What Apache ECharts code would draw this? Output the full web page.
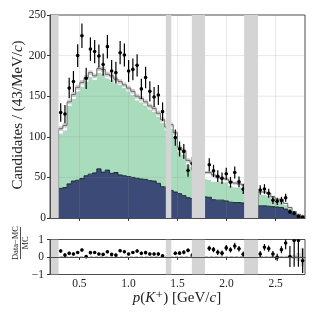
<!DOCTYPE html>
<html><head><meta charset="utf-8">
<script src="https://cdn.jsdelivr.net/npm/echarts@6/dist/echarts.min.js"></script>
<style>html,body{margin:0;padding:0;background:#fff}#c{width:317px;height:317px}</style>
</head><body><div id="c"></div>
<script>
// ---- binning (p in GeV/c) ----
const binLo = 0.2875;
const binWidth = 0.04328;
// ---- data (candidates per bin), null = vetoed bin ----
const dataVals = [130,128,160,168,200,224.5,172,208,205,199.5,189,211,181,179,203.6,200.7,181,183,188,159,173,156,149,151.5,131,null,null,99,85,82,58.5,67,null,null,null,65.5,58,51.5,49,54.5,44,56,44.5,35.5,null,null,null,34.5,35.7,30.4,22,20.5,21.5,25,7.8,5.8,2,1];
const dataErr = [11.4,11.3,12.6,13,14.1,15,13.1,14.4,14.3,14.1,13.7,14.5,13.5,13.4,14.3,14.2,13.5,13.5,13.7,12.6,13.2,12.5,12.2,12.3,11.4,null,null,9.9,9.2,9.1,7.6,8.2,null,null,null,8.1,7.6,7.2,7,7.4,6.6,7.5,6.7,6,null,null,null,5.9,6,5.5,4.7,4.5,4.6,5,2.8,2.4,1.4,1];
// ---- MC components (stacked) ----
const navyVals = [36.5,37.5,42,45.5,46.5,48.5,52,54,55.5,60.5,56.5,59,55,56,53,52,51,50,49,48,47.5,46,45.5,42.7,38.5,38,34,32,30,27.5,25,24,null,null,26,25.5,22.5,22,22,21,19.5,19,19,18.5,null,null,null,15,15,14.5,14,13.5,13,11,8,5,3,1.5];
const greenVals = [67.5,70.5,96,101.5,109.5,113.5,116,120,114.5,118.5,121.5,113,115,110,111,108,105,101.5,96,94.5,91.5,88,85.5,82.3,78.5,70,76,68,52,50.5,41,39,null,null,22,21.5,22.5,23,22.5,23,20,19,19,19,null,null,null,14,14,12.5,9,7.5,8,5,4,2,1,1];
const otherVals = [6,6,5,5,5,5,5,5,5,5,5,5,5,5,4,4,4,4.5,5,4.5,4,4,4,4,4,4,5,5,5,5,5,4,null,null,8,9,8,5,4.5,4,5.5,5,4,3.5,null,null,null,3,3,3,3,2,2,2,1,1,0.5,0.3];
const mcUnc = [3,3,3,3,3,3,3,3,3,3,3,3,3,3,3,3,3,3,3,3,3,3,3,3,3,3,2.5,2.5,2.5,2.5,2.5,2.5,null,null,2,2,2,2,2,2,2,2,2,2,null,null,null,1.5,1.5,1.5,1.5,1.5,1.5,1.2,1,1,1,1.5];
// ---- ratio (Data-MC)/MC ----
const ratioVals = [0.34,0.11,0.21,0.17,0.26,0.40,0.02,0.25,0.26,0.17,0.15,0.30,0.15,0.11,0.36,0.30,0.17,0.26,0.34,0.21,0.25,0.17,0.17,0.17,0.07,null,null,0.21,0.22,0.27,0.38,0.11,null,null,null,0.5,0.42,0.27,0.22,0.52,0.41,0.63,0.47,0.16,null,null,null,0.17,0.56,0.48,0.17,-0.02,0.42,0.8,0.03,0.95,0.95,-0.21];
const ratioErr = [0.1,0.1,0.09,0.09,0.09,0.09,0.08,0.09,0.09,0.08,0.08,0.09,0.08,0.08,0.09,0.09,0.08,0.09,0.09,0.09,0.09,0.09,0.09,0.1,0.09,null,null,0.1,0.11,0.11,0.11,0.12,null,null,null,0.15,0.15,0.15,0.15,0.16,0.15,0.18,0.16,0.15,null,null,null,0.18,0.19,0.18,0.18,0.2,0.2,0.35,0.6,1.5,1.5,0.7];
// ---- vetoed momentum ranges ----
const vetoBands = [[0.2,0.2875],[1.381,1.437],[1.646,1.781],[2.179,2.321]];
// ---- ticks ----
const xTicks = [0.5,1.0,1.5,2.0,2.5];
const yTicks = [50,100,150,200];

const FONT = '"Liberation Serif","DejaVu Serif",serif';
const NAVY = '#3b4a76', NAVY_EDGE = '#1c2644', GREEN = '#a9dcbd', TOT_EDGE = '#6a6a6a', UNC = 'rgba(150,150,150,0.45)';
const nBins = dataVals.length;
const edge = i => binLo + i * binWidth;
const center = i => binLo + (i + 0.5) * binWidth;

const runs = [];
{ let s = null; for (let i = 0; i <= nBins; i++) { const ok = i < nBins && navyVals[i] != null; if (ok && s === null) s = i; if (!ok && s !== null) { runs.push([s, i - 1]); s = null; } } }

function stepPts(api, s, e, f) { const p = []; for (let i = s; i <= e; i++) { const v = f(i); p.push(api.coord([edge(i), v]), api.coord([edge(i + 1), v])); } return p; }
const N = i => navyVals[i], G = i => navyVals[i] + greenVals[i], T = i => navyVals[i] + greenVals[i] + otherVals[i];

const histSeries = {
  type: 'custom', xAxisIndex: 0, yAxisIndex: 0, z: 2, clip: true, silent: true,
  data: runs.map((r, k) => [k]),
  renderItem(params, api) {
    const [s, e] = runs[params.dataIndex];
    const base0 = api.coord([edge(s), 0]), base1 = api.coord([edge(e + 1), 0]);
    const nTop = stepPts(api, s, e, N), gTop = stepPts(api, s, e, G), tTop = stepPts(api, s, e, T);
    const uHi = stepPts(api, s, e, i => T(i) + mcUnc[i]), uLo = stepPts(api, s, e, i => T(i) - mcUnc[i]);
    return { type: 'group', children: [
      { type: 'polygon', shape: { points: [base0].concat(nTop, [base1]) }, style: { fill: NAVY } },
      { type: 'polygon', shape: { points: gTop.concat(nTop.slice().reverse()) }, style: { fill: GREEN } },
      { type: 'polygon', shape: { points: tTop.concat(gTop.slice().reverse()) }, style: { fill: '#ffffff' } },
      { type: 'polygon', shape: { points: uHi.concat(uLo.slice().reverse()) }, style: { fill: UNC } },
      { type: 'polyline', shape: { points: nTop }, style: { stroke: NAVY_EDGE, lineWidth: 1, fill: null } },
      { type: 'polyline', shape: { points: [base0].concat(tTop, [base1]) }, style: { stroke: TOT_EDGE, lineWidth: 1, fill: null } }
    ]};
  }
};

const ratioBandSeries = {
  type: 'custom', xAxisIndex: 1, yAxisIndex: 1, z: 2, clip: true, silent: true,
  data: runs.map((r, k) => [k]),
  renderItem(params, api) {
    const [s, e] = runs[params.dataIndex];
    const hi = stepPts(api, s, e, i => mcUnc[i] / T(i)), lo = stepPts(api, s, e, i => -mcUnc[i] / T(i));
    return { type: 'polygon', shape: { points: hi.concat(lo.slice().reverse()) }, style: { fill: 'rgba(170,170,170,0.5)' } };
  }
};

function pointItems(vals, errs) { const out = []; for (let i = 0; i < nBins; i++) if (vals[i] != null) out.push([center(i), vals[i], errs[i], center(i) - 0.32 * binWidth, center(i) + 0.32 * binWidth]); return out; }
function pointRender(params, api) {
  const x = api.value(0), y = api.value(1), er = api.value(2), lo = api.value(3), hi = api.value(4);
  const a = api.coord([x, y + er]), b = api.coord([x, y - er]), l = api.coord([lo, y]), r = api.coord([hi, y]), p = api.coord([x, y]);
  return { type: 'group', children: [
    { type: 'line', shape: { x1: a[0], y1: a[1], x2: b[0], y2: b[1] }, style: { stroke: '#000', lineWidth: 1.2 } },
    { type: 'line', shape: { x1: l[0], y1: l[1], x2: r[0], y2: r[1] }, style: { stroke: '#000', lineWidth: 1 } },
    { type: 'circle', shape: { cx: p[0], cy: p[1], r: 1.8 }, style: { fill: '#000' } }
  ]};
}

function bandSeries(xi, yi) {
  return { type: 'custom', xAxisIndex: xi, yAxisIndex: yi, z: 6, clip: true, silent: true,
    data: vetoBands.map((b, k) => [k]),
    renderItem(params, api) {
      const [x0, x1] = vetoBands[params.dataIndex];
      const cs = params.coordSys; const a = api.coord([x0, 0]), b = api.coord([x1, 0]);
      return { type: 'rect', shape: { x: a[0], y: cs.y, width: b[0] - a[0], height: cs.height }, style: { fill: '#d4d4d4' } };
    } };
}

const gridItems = xTicks.map(v => ['x', v]).concat(yTicks.map(v => ['y', v]));
const gridLineSeries = {
  type: 'custom', xAxisIndex: 0, yAxisIndex: 0, z: 3, silent: true,
  data: gridItems.map((g, k) => [k]),
  renderItem(params, api) {
    const [t, v] = gridItems[params.dataIndex]; const cs = params.coordSys;
    if (t === 'x') { const p = api.coord([v, 0]); return { type: 'line', shape: { x1: p[0], y1: cs.y, x2: p[0], y2: cs.y + cs.height }, style: { stroke: 'rgba(140,140,140,0.2)', lineWidth: 1 } }; }
    const p = api.coord([0.2, v]); return { type: 'line', shape: { x1: cs.x, y1: p[1], x2: cs.x + cs.width, y2: p[1] }, style: { stroke: 'rgba(140,140,140,0.2)', lineWidth: 1 } };
  }
};

const zeroLine = {
  type: 'custom', xAxisIndex: 1, yAxisIndex: 1, z: 3, silent: true, data: [[0]],
  renderItem(params, api) { const cs = params.coordSys; const p = api.coord([0.2, 0]);
    return { type: 'line', shape: { x1: cs.x, y1: p[1], x2: cs.x + cs.width, y2: p[1] }, style: { stroke: '#8a8a8a', lineWidth: 1, lineDash: [3, 2] } }; }
};

const axisCommon = { z: 10, axisLine: { show: true, lineStyle: { color: '#4d4d4d', width: 1 } }, splitLine: { show: false } };
const labelStyle = { fontFamily: FONT, fontSize: 11.5, color: '#222' };

const option = {
  animation: false,
  grid: [
    { left: 50, top: 15, width: 255, height: 203, show: true, borderColor: '#4d4d4d', borderWidth: 1, backgroundColor: 'transparent' },
    { left: 50, top: 239.5, width: 255, height: 35, show: true, borderColor: '#4d4d4d', borderWidth: 1, backgroundColor: 'transparent' }
  ],
  xAxis: [
    Object.assign({ gridIndex: 0, type: 'value', min: 0.2, max: 2.8, axisTick: { show: true, customValues: xTicks, length: 3, lineStyle: { color: '#333' } }, axisLabel: { show: false } }, axisCommon),
    Object.assign({ gridIndex: 1, type: 'value', min: 0.2, max: 2.8, axisTick: { show: true, customValues: xTicks, length: 3, lineStyle: { color: '#333' } }, axisLabel: Object.assign({ show: true, customValues: xTicks, margin: 3, formatter: v => v.toFixed(1) }, labelStyle) }, axisCommon)
  ],
  yAxis: [
    Object.assign({ gridIndex: 0, type: 'value', min: 0, max: 250, interval: 50, axisTick: { show: true, length: 3, lineStyle: { color: '#333' } }, axisLabel: Object.assign({ margin: 4 }, labelStyle) }, axisCommon),
    Object.assign({ gridIndex: 1, type: 'value', min: -1, max: 1, interval: 1, axisTick: { show: true, length: 3, lineStyle: { color: '#333' } }, axisLabel: Object.assign({ margin: 6, formatter: v => (v < 0 ? '\u2212' + Math.abs(v) : String(v)) }, labelStyle) }, axisCommon)
  ],
  series: [
    histSeries,
    gridLineSeries,
    Object.assign({ type: 'custom', xAxisIndex: 0, yAxisIndex: 0, z: 4, clip: true, silent: true, encode: { x: 0, y: 1 }, data: pointItems(dataVals, dataErr), renderItem: pointRender }),
    bandSeries(0, 0),
    ratioBandSeries,
    zeroLine,
    Object.assign({ type: 'custom', xAxisIndex: 1, yAxisIndex: 1, z: 4, clip: true, silent: true, encode: { x: 0, y: 1 }, data: pointItems(ratioVals, ratioErr), renderItem: pointRender }),
    bandSeries(1, 1)
  ],
  graphic: [
    { type: 'text', x: 18, y: 115, rotation: Math.PI / 2, z: 20,
      style: { text: '{n|Candidates / (43/MeV/}{i|c}{n|)}', textAlign: 'center', textVerticalAlign: 'middle',
        rich: { n: { fontFamily: FONT, fontSize: 15, fill: '#222' }, i: { fontFamily: FONT, fontSize: 15, fontStyle: 'italic', fill: '#222' } } } },
    { type: 'text', x: 177, y: 298, z: 20,
      style: { text: '{i|p}{n|(}{i|K}{n|\u207A) [GeV/}{i|c}{n|]}', textAlign: 'center', textVerticalAlign: 'middle',
        rich: { n: { fontFamily: FONT, fontSize: 15, fill: '#222' }, i: { fontFamily: FONT, fontSize: 15, fontStyle: 'italic', fill: '#222' } } } },
    { type: 'group', x: 20.5, y: 243, rotation: Math.PI / 2, z: 20, children: [
      { type: 'text', x: 0, y: -5, style: { text: 'Data\u2212MC', font: '8.5px ' + FONT, fill: '#222', textAlign: 'center', textVerticalAlign: 'middle' } },
      { type: 'line', shape: { x1: -16, y1: 0, x2: 16, y2: 0 }, style: { stroke: '#222', lineWidth: 0.8 } },
      { type: 'text', x: 0, y: 5.5, style: { text: 'MC', font: '8.5px ' + FONT, fill: '#222', textAlign: 'center', textVerticalAlign: 'middle' } }
    ] }
  ]
};
const chart = echarts.init(document.getElementById('c'));
chart.setOption(option);
</script></body></html>
